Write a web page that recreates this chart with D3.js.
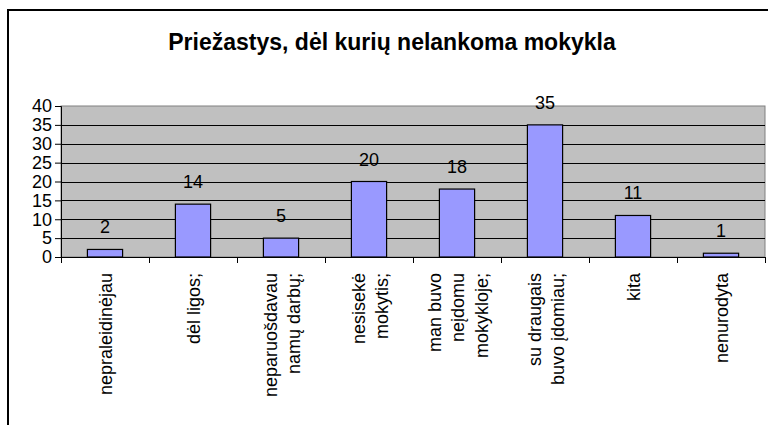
<!DOCTYPE html>
<head>
    <meta charset="utf-8">
    <style>
        body { margin: 0; background: #fff; }
        text { font-family: "Liberation Sans", Arial, sans-serif; fill: #000; }
    </style>
</head>
<body>
    <script src="https://d3js.org/d3.v7.min.js"></script>
    <script>

        // data
        var categories = [
            ["nepraleidinėjau"],
            ["dėl ligos;"],
            ["neparuošdavau", "namų darbų;"],
            ["nesisekė", "mokytis;"],
            ["man buvo", "neįdomu", "mokykloje;"],
            ["su draugais", "buvo įdomiau;"],
            ["kita"],
            ["nenurodyta"]
        ];
        var values = [2, 14, 5, 20, 18, 35, 11, 1];
        var yTicks = [0, 5, 10, 15, 20, 25, 30, 35, 40];
        var title = "Priežastys, dėl kurių nelankoma mokykla";

        // set the dimensions of the plot area
        var width = 768, height = 425;
        var plot = {left: 61, right: 765, top: 106, bottom: 257};

        var svg = d3.select("body")
            .append("svg")
            .attr("width", width)
            .attr("height", height);

        // chart frame (only top and left edges are visible)
        svg.append("path")
            .attr("d", "M8," + height + "V10H" + width)
            .attr("fill", "none")
            .attr("stroke", "#000")
            .attr("stroke-width", 2);

        // title
        svg.append("text")
            .attr("x", 392)
            .attr("y", 50)
            .attr("text-anchor", "middle")
            .style("font-size", "23px")
            .style("font-weight", "bold")
            .text(title);

        // set the ranges
        var idx = categories.map(function(d, i) { return i; });
        var x = d3.scaleBand()
            .domain(idx)
            .range([plot.left, plot.right])
            .paddingInner(0.6)
            .paddingOuter(0.3);
        var y = d3.scaleLinear()
            .domain([0, 40])
            .range([plot.bottom, plot.top]);

        // plot background
        svg.append("rect")
            .attr("x", plot.left)
            .attr("y", plot.top)
            .attr("width", plot.right - plot.left)
            .attr("height", plot.bottom - plot.top)
            .attr("fill", "#c0c0c0")
            .attr("stroke", "#808080")
            .attr("stroke-width", 1);

        // gridlines
        svg.append("g")
            .selectAll("line")
            .data(yTicks.filter(function(t) { return t > 0 && t < 40; }))
            .enter().append("line")
            .attr("x1", plot.left)
            .attr("x2", plot.right)
            .attr("y1", function(d) { return Math.round(y(d)) + 0.5; })
            .attr("y2", function(d) { return Math.round(y(d)) + 0.5; })
            .attr("stroke", "#000")
            .attr("stroke-width", 1);

        // bars
        svg.append("g")
            .selectAll("rect")
            .data(values)
            .enter().append("rect")
            .attr("x", function(d, i) { return x(i); })
            .attr("y", function(d) { return y(d); })
            .attr("width", x.bandwidth())
            .attr("height", function(d) { return y(0) - y(d); })
            .attr("fill", "#9999ff")
            .attr("stroke", "#000")
            .attr("stroke-width", 1.2);

        // value labels
        svg.append("g")
            .selectAll("text")
            .data(values)
            .enter().append("text")
            .attr("x", function(d, i) { return x(i) + x.bandwidth() / 2; })
            .attr("y", function(d) { return y(d) - 16; })
            .attr("text-anchor", "middle")
            .style("font-size", "18px")
            .text(function(d) { return d; });

        // y axis
        var yAxis = svg.append("g")
            .attr("transform", "translate(" + plot.left + ",0)")
            .call(d3.axisLeft(y).tickValues(yTicks).tickSize(6).tickPadding(3));
        yAxis.select(".domain").attr("stroke", "#000");
        yAxis.selectAll("text")
            .style("font-size", "18px")
            .attr("font-family", null);

        // x axis with ticks between categories
        var step = x.step();
        var bounds = d3.range(categories.length + 1).map(function(i) { return plot.left + i * step; });
        var xAxis = svg.append("g");
        xAxis.append("line")
            .attr("x1", plot.left).attr("x2", plot.right)
            .attr("y1", plot.bottom + 0.5).attr("y2", plot.bottom + 0.5)
            .attr("stroke", "#000");
        xAxis.selectAll(".tick")
            .data(bounds)
            .enter().append("line")
            .attr("x1", function(d) { return Math.round(d) + 0.5; })
            .attr("x2", function(d) { return Math.round(d) + 0.5; })
            .attr("y1", plot.bottom)
            .attr("y2", plot.bottom + 6)
            .attr("stroke", "#000");

        // rotated category labels
        var lineH = 23.5;
        var labels = svg.append("g")
            .selectAll("g")
            .data(categories)
            .enter().append("g")
            .attr("transform", function(d, i) {
                return "translate(" + (x(i) + x.bandwidth() / 2 + 1) + ",273) rotate(-90)";
            });
        labels.selectAll("text")
            .data(function(d) { return d.map(function(t, j) { return {t: t, j: j, n: d.length}; }); })
            .enter().append("text")
            .attr("x", 0)
            .attr("y", function(d) { return (d.j - (d.n - 1) / 2) * lineH; })
            .attr("dy", "0.35em")
            .attr("text-anchor", "end")
            .style("font-size", "18px")
            .text(function(d) { return d.t; });

    </script>
</body>
